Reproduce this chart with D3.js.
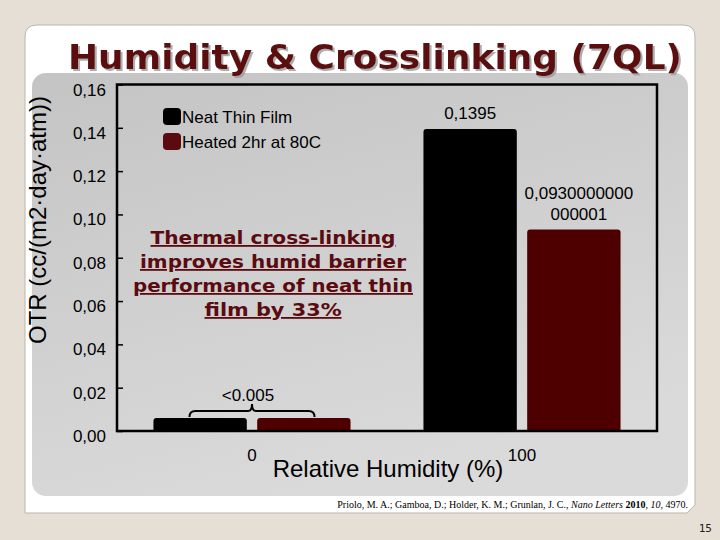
<!DOCTYPE html>
<html>
<head>
<meta charset="utf-8">
<script src="https://cdn.jsdelivr.net/npm/d3@7"></script>
<style>
  html, body { margin: 0; padding: 0; background: #e5dfd5; }
  svg { display: block; }
</style>
</head>
<body>
<div id="chart"></div>
<script>
// chart values
var categories   = ['0', '100'];
var seriesNames  = ['Neat Thin Film', 'Heated 2hr at 80C'];
var neatValues   = [0.006, 0.1395];
var heatedValues = [0.006, 0.093];
var yTicks       = [0, 0.02, 0.04, 0.06, 0.08, 0.10, 0.12, 0.14, 0.16];
var barLabels    = [[], ['0,1395'], ['0,0930000000', '000001']]; // per bar, high humidity only
var lowLabel     = '<0.005';
var noteLines    = ['Thermal cross-linking', 'improves humid barrier',
                    'performance of neat thin', 'film by 33%'];

var W = 720, H = 540;
var MAROON = '#5b0b10', BAR_RED = '#4e0000';
var seriesColors = ['#000000', BAR_RED];

var svg = d3.select('#chart').append('svg')
            .attr('width', W).attr('height', H);

var defs = svg.append('defs');
var grad = defs.append('linearGradient')
               .attr('id', 'panelGrad')
               .attr('x1', '0').attr('y1', '0').attr('x2', '0.4').attr('y2', '1');
grad.append('stop').attr('offset', '0').attr('stop-color', '#c4c4c4');
grad.append('stop').attr('offset', '1').attr('stop-color', '#dadada');

// soft shadow under the title
defs.append('filter')
    .attr('id', 'titleShadow')
    .attr('x', '-5%').attr('y', '-20%').attr('width', '110%').attr('height', '140%')
    .append('feDropShadow')
    .attr('dx', 2).attr('dy', 2).attr('stdDeviation', 0.6)
    .attr('flood-color', '#9a9a9a').attr('flood-opacity', 0.8);

// white slide card
svg.append('path')
   .attr('d', 'M25,513 L25,37 Q25,25 37,25 L683,25 Q695,25 695,37 L695,505 L687,513 Z')
   .attr('fill', '#ffffff')
   .attr('stroke', '#b9b6b0')
   .attr('stroke-width', 1);

// gray chart panel
svg.append('rect')
   .attr('x', 32).attr('y', 73).attr('width', 656).attr('height', 423)
   .attr('rx', 14)
   .attr('fill', 'url(#panelGrad)');

// title
svg.append('text')
   .attr('x', 68).attr('y', 69)
   .attr('textLength', 614).attr('lengthAdjust', 'spacingAndGlyphs')
   .attr('filter', 'url(#titleShadow)')
   .style('font-family', '"DejaVu Sans", Verdana, sans-serif')
   .style('font-weight', 'bold')
   .style('font-size', '33px')
   .attr('fill', MAROON)
   .text('Humidity & Crosslinking (7QL)');

// plot area
var plot = { left : 117, right : 657, top : 84.5, bottom : 431 };

var x0 = d3.scaleBand()
           .domain(categories)
           .range([plot.left, plot.right])
           .paddingInner(0.27)
           .paddingOuter(0.135);

var x1 = d3.scaleBand()
           .domain(seriesNames)
           .range([0, x0.bandwidth()])
           .paddingInner(0.1);

var y = d3.scaleLinear()
          .domain([0, 0.16])
          .range([plot.bottom, plot.top]);

var commaFmt = d3.formatLocale({ decimal : ',', thousands : '.', grouping : [3], currency : ['', ''] })
                 .format('.2f');

// y axis, ticks pointing into the frame
var yAxis = svg.append('g')
               .attr('transform', 'translate(' + plot.left + ',0)')
               .call(d3.axisLeft(y).tickValues(yTicks).tickFormat(commaFmt)
                       .tickSizeInner(-6).tickSizeOuter(0).tickPadding(11));
yAxis.select('.domain').remove();
yAxis.selectAll('line').attr('stroke', '#000').attr('stroke-width', 1.5);
yAxis.selectAll('text')
     .attr('dy', '0.62em')
     .style('font-family', '"Liberation Sans", Arial, sans-serif')
     .style('font-size', '17px')
     .attr('fill', '#000');

// bars
var barData = [];
categories.forEach(function(c, i) {
    barData.push({ cat : c, series : seriesNames[0], value : neatValues[i] });
    barData.push({ cat : c, series : seriesNames[1], value : heatedValues[i] });
});

function barPath(d) {
    var bx = x0(d.cat) + x1(d.series), bw = x1.bandwidth();
    var top = y(d.value), r = 3;
    return 'M' + bx + ',' + y(0) + 'L' + bx + ',' + (top + r) +
           'Q' + bx + ',' + top + ' ' + (bx + r) + ',' + top +
           'L' + (bx + bw - r) + ',' + top +
           'Q' + (bx + bw) + ',' + top + ' ' + (bx + bw) + ',' + (top + r) +
           'L' + (bx + bw) + ',' + y(0) + 'Z';
}

svg.selectAll('path.bar')
   .data(barData)
   .enter()
   .append('path')
   .attr('class', 'bar')
   .attr('d', barPath)
   .attr('fill', function(d) { return seriesColors[seriesNames.indexOf(d.series)]; });

// frame
svg.append('rect')
   .attr('x', plot.left).attr('y', plot.top)
   .attr('width', plot.right - plot.left).attr('height', plot.bottom - plot.top)
   .attr('fill', 'none')
   .attr('stroke', '#000')
   .attr('stroke-width', 2.5);

// value labels over the 100% RH bars
var labelFont = '"Liberation Sans", Arial, sans-serif';
barData.slice(2).forEach(function(d, i) {
    var lines = barLabels[i + 1];
    var cx = x0(d.cat) + x1(d.series) + x1.bandwidth() / 2;
    var extra = i === 1 ? 5 : 0;
    lines.forEach(function(line, j) {
        svg.append('text')
           .attr('x', cx + extra)
           .attr('y', y(d.value) - 10 - (lines.length - 1 - j) * 21)
           .attr('text-anchor', 'middle')
           .style('font-family', labelFont)
           .style('font-size', '17px')
           .text(line);
    });
});

// brace over the dry bars
var bl = x0('0') + x1(seriesNames[0]) + 36, br = x0('0') + x1(seriesNames[1]) + x1.bandwidth() - 36;
var bc = (bl + br) / 2, by = y(neatValues[0]);
svg.append('path')
   .attr('d', 'M' + bl + ',' + (by - 1) + 'Q' + bl + ',' + (by - 7) + ' ' + (bl + 6) + ',' + (by - 7) +
              'L' + (bc - 4) + ',' + (by - 7) + 'Q' + bc + ',' + (by - 7) + ' ' + bc + ',' + (by - 14) +
              'Q' + bc + ',' + (by - 7) + ' ' + (bc + 4) + ',' + (by - 7) +
              'L' + (br - 6) + ',' + (by - 7) + 'Q' + br + ',' + (by - 7) + ' ' + br + ',' + (by - 1))
   .attr('fill', 'none')
   .attr('stroke', '#000')
   .attr('stroke-width', 2);
svg.append('text')
   .attr('x', bc - 4).attr('y', by - 17)
   .attr('text-anchor', 'middle')
   .style('font-family', labelFont)
   .style('font-size', '17px')
   .text(lowLabel);

// x tick labels under each group
svg.selectAll('text.xtick')
   .data(categories)
   .enter()
   .append('text')
   .attr('class', 'xtick')
   .attr('x', function(d) { return x0(d) + x0.bandwidth() / 2; })
   .attr('y', 461)
   .attr('text-anchor', 'middle')
   .style('font-family', labelFont)
   .style('font-size', '17px')
   .text(function(d) { return d; });

// axis titles
svg.append('text')
   .attr('x', 388).attr('y', 477)
   .attr('text-anchor', 'middle')
   .style('font-family', labelFont)
   .style('font-size', '24px')
   .text('Relative Humidity (%)');

svg.append('text')
   .attr('transform', 'translate(46,220) rotate(-90)')
   .attr('text-anchor', 'middle')
   .style('font-family', labelFont)
   .style('font-size', '24px')
   .text('OTR (cc/(m2\u00b7day\u00b7atm))');

// legend
var legend = svg.selectAll('g.legend')
                .data(seriesNames)
                .enter()
                .append('g')
                .attr('class', 'legend')
                .attr('transform', function(d, i) { return 'translate(163,' + (108 + i * 25) + ')'; });
legend.append('rect')
      .attr('width', 18).attr('height', 17).attr('rx', 4)
      .attr('fill', function(d, i) { return i === 0 ? '#000' : MAROON; });
legend.append('text')
      .attr('x', 19).attr('y', 15)
      .style('font-family', labelFont)
      .style('font-size', '17px')
      .text(function(d) { return d; });

// annotation
var noteWidths = [245, 266, 280, 137];
svg.selectAll('text.note')
   .data(noteLines)
   .enter()
   .append('text')
   .attr('class', 'note')
   .attr('x', 273)
   .attr('y', function(d, i) { return 244 + i * 24; })
   .attr('text-anchor', 'middle')
   .attr('textLength', function(d, i) { return noteWidths[i]; })
   .attr('lengthAdjust', 'spacingAndGlyphs')
   .style('font-family', '"DejaVu Sans", Verdana, sans-serif')
   .style('font-weight', 'bold')
   .style('font-size', '18px')
   .style('text-decoration', 'underline')
   .attr('fill', MAROON)
   .text(function(d) { return d; });

// citation
var cite = svg.append('text')
              .attr('x', 688).attr('y', 508)
              .attr('text-anchor', 'end')
              .style('font-family', '"Liberation Serif", "Times New Roman", serif')
              .style('font-size', '10px');
cite.append('tspan').text('Priolo, M. A.; Gamboa, D.; Holder, K. M.; Grunlan, J. C., ');
cite.append('tspan').style('font-style', 'italic').text('Nano Letters');
cite.append('tspan').text(' ');
cite.append('tspan').style('font-weight', 'bold').text('2010');
cite.append('tspan').text(', ');
cite.append('tspan').style('font-style', 'italic').text('10');
cite.append('tspan').text(', 4970.');

// slide number
svg.append('text')
   .attr('x', 712).attr('y', 532)
   .attr('text-anchor', 'end')
   .style('font-family', '"DejaVu Sans Mono", monospace')
   .style('font-size', '11px')
   .attr('fill', '#222')
   .text('15');
</script>
</body>
</html>
